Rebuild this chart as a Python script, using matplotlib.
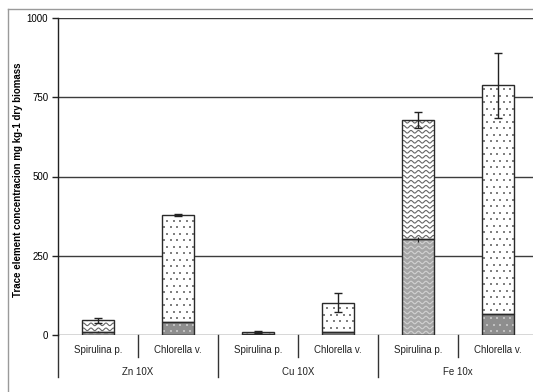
import numpy as np
import matplotlib
matplotlib.use("Agg")
import matplotlib.pyplot as plt
from matplotlib.patches import Rectangle
from matplotlib.lines import Line2D

# Data: stacked trace element concentrations (mg kg-1 dry biomass)
groups = ["Zn 10X", "Cu 10X", "Fe 10x"]
species = ["Spirulina p.", "Chlorella v."]
bottom_vals = [10, 40, 3, 10, 302, 65]
total_vals = [47, 378, 10, 102, 677, 788]
bottom_err = [2, 0, 1, 0, 8, 0]
total_err = [8, 4, 4, 30, 25, 103]

plt.rcParams["font.family"] = ["Liberation Sans", "DejaVu Sans"]

W, H = 533, 392
fig = plt.figure(figsize=(W / 100, H / 100), dpi=100)

# axes placed in pixel units; plot extends beyond the right edge of the canvas
left_px, right_px, top_px, zero_px = 58, 538, 18, 335
ax_h = zero_px - top_px
ax = fig.add_axes([left_px / W, (H - zero_px) / H,
                   (right_px - left_px) / W, ax_h / H])

n = len(total_vals)
x = np.arange(n)
ax.set_xlim(-0.5, n - 0.5)
ax.set_ylim(0, 1000)

# outer frame of the figure
fig.add_artist(Line2D([8 / W, 8 / W], [0, 1 - 9 / H], transform=fig.transFigure,
                      color="#9a9a9a", lw=1.0))
fig.add_artist(Line2D([8 / W, 1], [1 - 9 / H, 1 - 9 / H], transform=fig.transFigure,
                      color="#9a9a9a", lw=1.0))

# gridlines
for yv in [250, 500, 750, 1000]:
    ax.axhline(yv, color="#3c3c3c", lw=1.0, zorder=1)

for s in ["top", "right", "bottom"]:
    ax.spines[s].set_visible(False)
ax.spines["left"].set_color("#222222")
ax.spines["left"].set_linewidth(1.0)
ax.axhline(0, color="#3c3c3c", lw=1.0, zorder=5)

ax.set_yticks([0, 250, 500, 750, 1000])
ax.set_yticklabels(["0", "250", "500", "750", "1000"], fontsize=7)
ax.tick_params(axis="y", length=4, width=1, color="#222222", pad=3)
ax.set_xticks([])
ax.set_ylabel("Trace element concentracion mg kg-1 dry biomass",
              fontsize=7, fontweight="bold")
ax.yaxis.set_label_coords(-35 / (right_px - left_px), 0.49)

fig.canvas.draw()
# pixel scale of data units
px_per_x = (ax.transData.transform((1, 0))[0] - ax.transData.transform((0, 0))[0])
px_per_y = (ax.transData.transform((0, 1))[1] - ax.transData.transform((0, 0))[1])

bw = 0.41


def wave_texture(rect, x0, x1, y0, y1, color, lw=0.8):
    period = 7.5 / px_per_x
    amp = 1.3 / px_per_y
    spacing = 5.0 / px_per_y
    xs = np.linspace(x0, x1, 200)
    yy = y0 + spacing * 0.5
    while yy < y1 + spacing:
        ys = yy + amp * np.sin(2 * np.pi * (xs - x0) / period)
        ln, = ax.plot(xs, ys, color=color, lw=lw, zorder=3, solid_capstyle="butt")
        ln.set_clip_path(rect)
        yy += spacing


def dot_texture(rect, x0, x1, y0, y1, color, size=1.6):
    dx = 6.5 / px_per_x
    dy = 6.5 / px_per_y
    pts_x, pts_y = [], []
    row = 0
    yy = y0 + dy * 0.6
    while yy < y1:
        off = (dx / 2) if row % 2 else 0
        xx = x0 + dx * 0.4 + off
        while xx < x1:
            pts_x.append(xx)
            pts_y.append(yy)
            xx += dx
        yy += dy
        row += 1
    sc = ax.scatter(pts_x, pts_y, s=size, color=color, marker="s", lw=0, zorder=3)
    sc.set_clip_path(rect)


for i in range(n):
    xc = x[i]
    x0, x1 = xc - bw / 2, xc + bw / 2
    b, t = bottom_vals[i], total_vals[i]
    is_spir = (i % 2 == 0)
    # lower segment
    lo_face = "#a6a6a6" if is_spir else "#8e8e8e"
    r1 = Rectangle((x0, 0), bw, b, facecolor=lo_face, edgecolor="none", zorder=2)
    ax.add_patch(r1)
    # upper segment
    r2 = Rectangle((x0, b), bw, t - b, facecolor="white", edgecolor="none", zorder=2)
    ax.add_patch(r2)
    if is_spir:
        wave_texture(r1, x0, x1, 0, b, "#d2d2d2")
        wave_texture(r2, x0, x1, b, t, "#666666")
    else:
        dot_texture(r1, x0, x1, 0, b, "#c0c0c0")
        dot_texture(r2, x0, x1, b, t, "#808080")
    # outlines
    ax.add_patch(Rectangle((x0, 0), bw, b, facecolor="none", edgecolor="#2a2a2a",
                           lw=1.0, zorder=4))
    ax.add_patch(Rectangle((x0, b), bw, t - b, facecolor="none", edgecolor="#2a2a2a",
                           lw=1.0, zorder=4))

ax.errorbar(x, total_vals, yerr=total_err, fmt="none", ecolor="#222222",
            elinewidth=1.0, capsize=3, capthick=1.0, zorder=6)
ax.errorbar(x, bottom_vals, yerr=bottom_err, fmt="none", ecolor="#222222",
            elinewidth=1.0, capsize=0, zorder=6)

# two-level category axis
trans = ax.get_xaxis_transform()
short = -22 / ax_h
long_ = -42 / ax_h
for i in range(n):
    ax.text(x[i], -15 / ax_h, species[i % 2], transform=trans,
            ha="center", va="center", fontsize=7, color="#222222")
for g in range(len(groups)):
    ax.text(2 * g + 0.5, -37 / ax_h, groups[g], transform=trans,
            ha="center", va="center", fontsize=7, color="#222222")
for k in range(n + 1):
    xb = k - 0.5
    y_end = long_ if k % 2 == 0 else short
    ax.add_line(Line2D([xb, xb], [0, y_end], transform=trans, color="#333333",
                       lw=1.0, clip_on=False))

fig.savefig("out.png", dpi=100)
